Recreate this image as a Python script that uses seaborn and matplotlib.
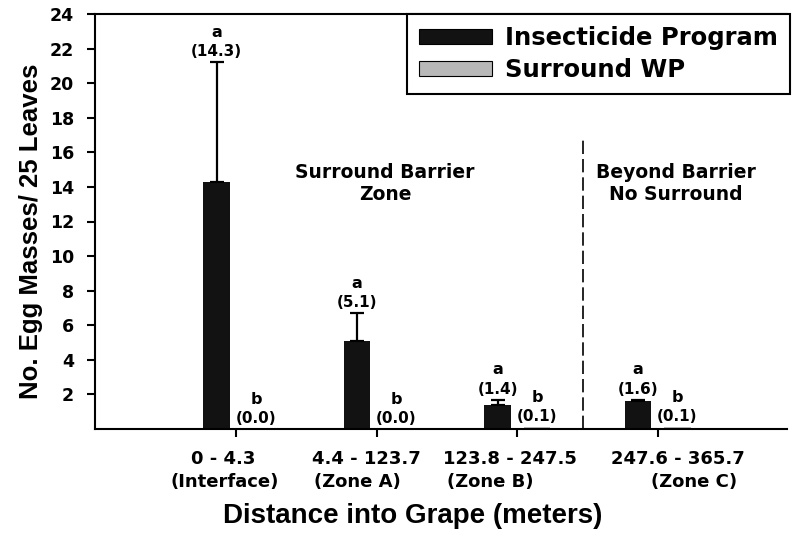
import matplotlib
matplotlib.use("Agg")
import matplotlib.pyplot as plt
import matplotlib.transforms as mtransforms
from matplotlib.patches import Patch
import seaborn as sns
import pandas as pd

# ---------------- data ----------------
zone_ranges = ["0 - 4.3", "4.4 - 123.7", "123.8 - 247.5", "247.6 - 365.7"]
zone_names = ["(Interface)", "(Zone A)", "(Zone B)", "(Zone C)"]
treatments = ["Insecticide Program", "Surround WP"]
insecticide_means = [14.3, 5.1, 1.4, 1.6]
insecticide_se = [6.9, 1.6, 0.3, 0.1]
surround_means = [0.0, 0.0, 0.1, 0.1]
surround_se = [0.0, 0.0, 0.0, 0.0]
insecticide_letters = ["a", "a", "a", "a"]
surround_letters = ["b", "b", "b", "b"]
y_ticks = [2, 4, 6, 8, 10, 12, 14, 16, 18, 20, 22, 24]
region_labels = ["Surround Barrier\nZone", "Beyond Barrier\nNo Surround"]

df = pd.DataFrame({
    "zone": zone_ranges * 2,
    "treatment": [treatments[0]] * 4 + [treatments[1]] * 4,
    "mean": insecticide_means + surround_means,
})
se_by_treatment = [insecticide_se, surround_se]
letters_by_treatment = [insecticide_letters, surround_letters]

# ---------------- style ----------------
sns.set_theme(style="white")
plt.rcParams["font.family"] = ["DejaVu Sans"]
plt.rcParams["font.weight"] = "bold"
plt.rcParams["axes.linewidth"] = 1.5
for key in ["text.color", "axes.labelcolor", "xtick.color", "ytick.color",
            "axes.edgecolor"]:
    plt.rcParams[key] = "black"

colors = {"Insecticide Program": "#121212", "Surround WP": "#b8b8b8"}

W, H = 793, 533
fig = plt.figure(figsize=(W / 100, H / 100), dpi=100)
ax_l, ax_r, ax_b, ax_t = 95, 787, 429, 14
ax = fig.add_axes([ax_l / W, (H - ax_b) / H, (ax_r - ax_l) / W, (ax_b - ax_t) / H])

sns.barplot(data=df, x="zone", y="mean", hue="treatment", order=zone_ranges,
            hue_order=treatments, palette=colors, width=0.56, gap=0.33,
            errorbar=None, saturation=1, linewidth=0, ax=ax, legend=False)

bar_containers = list(ax.containers)

# error bars and significance labels
for ci, container in enumerate(bar_containers):
    for bi, bar in enumerate(container.patches):
        xc = bar.get_x() + bar.get_width() / 2
        h = bar.get_height()
        se = se_by_treatment[ci][bi]
        if se > 0:
            ax.errorbar(xc, h, yerr=[[0], [se]], fmt="none", ecolor="black",
                        elinewidth=1.6, capsize=5, capthick=1.6, zorder=3)
        top = h + se
        ax.annotate(f"({h:.1f})", (xc, top), xytext=(0, 7.5), textcoords="offset points",
                    ha="center", va="center", fontsize=11, fontweight="bold",
                    color="black")
        ax.annotate(letters_by_treatment[ci][bi], (xc, top), xytext=(0, 21.5),
                    textcoords="offset points", ha="center", va="center",
                    fontsize=11.5, fontweight="bold", color="black")

# barrier divider
barrier_x = 2.47
ax.axvline(barrier_x, ymin=0, ymax=16.8 / 24, color="black", lw=1.2,
           linestyle=(0, (8, 3)))

# region texts
ax.text(1.06, 14.2, region_labels[0], ha="center", va="center", fontsize=13.5,
        fontweight="bold", linespacing=1.2, color="black")
ax.text(3.13, 14.2, region_labels[1], ha="center", va="center", fontsize=13.5,
        fontweight="bold", linespacing=1.2, color="black")

# axes
ax.set_xlim(-1.005, 3.92)
ax.set_ylim(0, 24)
ax.set_yticks(y_ticks)
ax.set_yticklabels([str(t) for t in y_ticks], fontsize=12.5, fontweight="bold")
ax.set_xticks(range(len(zone_ranges)))
ax.set_xticklabels(zone_ranges, fontsize=13, fontweight="bold")
ax.tick_params(axis="y", direction="out", length=6, width=1.5, pad=9, left=True,
               colors="black")
ax.tick_params(axis="x", direction="out", length=6, width=1.5, pad=9, bottom=True,
               colors="black")
for s in ["left", "bottom", "top"]:
    ax.spines[s].set_color("black")
    ax.spines[s].set_linewidth(1.5)
ax.spines["right"].set_visible(False)

line1_dx_px = [-13, -10, -7, 20]
line2_dx_px = [-12, -19, -27, 36]
for lab, dx in zip(ax.get_xticklabels(), line1_dx_px):
    off = mtransforms.ScaledTranslation(dx / 100, 0, fig.dpi_scale_trans)
    lab.set_transform(lab.get_transform() + off)
for i, (name, dx) in enumerate(zip(zone_names, line2_dx_px)):
    ax.annotate(name, (i, 0), xycoords=("data", "axes fraction"),
                xytext=(dx * 0.72, -53 * 0.72), textcoords="offset points",
                ha="center", va="center", fontsize=13, fontweight="bold",
                color="black")

ax.set_xlabel("Distance into Grape (meters)", fontsize=20, fontweight="bold",
              family=["Liberation Sans", "DejaVu Sans"], color="black")
ax.xaxis.set_label_coords((413 - ax_l) / (ax_r - ax_l), -(503 - ax_b) / (ax_b - ax_t))
ax.set_ylabel("No. Egg Masses/ 25 Leaves", fontsize=18.5, fontweight="bold",
              family=["Liberation Sans", "DejaVu Sans"], color="black")
ax.yaxis.set_label_coords((43 - ax_l) / (ax_r - ax_l), (ax_b - 231) / (ax_b - ax_t))

# legend
handles = [Patch(facecolor=colors[t], edgecolor="black", linewidth=0.8) for t in treatments]
leg = fig.legend(handles, treatments, loc="upper left",
                 bbox_to_anchor=(407 / W, 1 - 14 / H), bbox_transform=fig.transFigure,
                 borderaxespad=0, frameon=True, fancybox=False, framealpha=1,
                 edgecolor="black", handlelength=3.0, handleheight=0.55,
                 handletextpad=0.55, borderpad=0.5, labelspacing=0.32,
                 prop={"size": 17.5, "weight": "bold"})
leg.get_frame().set_linewidth(1.5)
for t in leg.get_texts():
    t.set_color("black")

fig.savefig("out.png", dpi=100)
